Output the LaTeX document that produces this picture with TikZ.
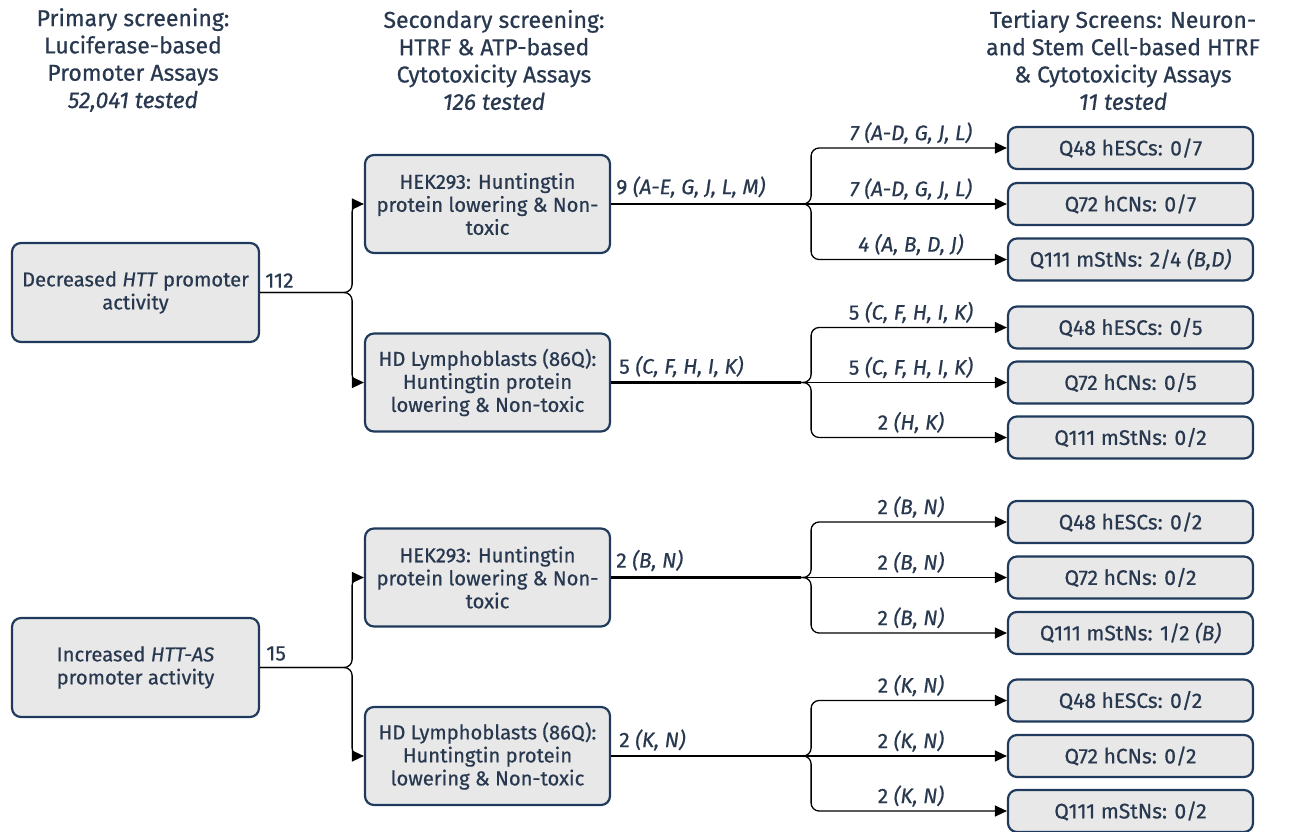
\documentclass[tikz,border=0pt]{standalone}
\usepackage{fontspec}
\setmainfont{Fira Sans}[UprightFeatures={FakeBold=0.6}, ItalicFeatures={FakeBold=0.6}]
\usetikzlibrary{arrows.meta}
\definecolor{navy}{HTML}{1F3A5C}
\definecolor{txt}{HTML}{28384F}
\definecolor{boxfill}{HTML}{E8E8E8}
\begin{document}
\begin{tikzpicture}[x=1pt,y=-1pt,
  box/.style={draw=navy, line width=2.2pt, fill=boxfill, rounded corners=9pt, align=center,
    text=txt, font=\fontsize{20.2}{23}\selectfont, inner sep=0pt},
  pbox/.style={box, minimum width=247pt, minimum height=99pt},
  sbox/.style={box, minimum width=245pt, minimum height=98pt},
  tbox/.style={box, minimum width=245pt, minimum height=42pt, font=\fontsize{21}{23}\selectfont},
  head/.style={align=center, text=txt, font=\fontsize{23}{27.3}\selectfont, inner sep=0pt},
  lab/.style={text=txt, font=\fontsize{21}{24}\selectfont, inner sep=0pt},
  conn/.style={draw=black, line width=1.3pt, rounded corners=8pt, -{Triangle[length=12pt,width=11pt]}},
  mainline/.style={draw=black, line width=2.8pt}
]
\useasboundingbox (0,0) rectangle (1294,831);

% headers
\node[head] (h1) at (133,60) {Primary screening:\\Luciferase-based\\Promoter Assays\\\textit{52,041 tested}};
\node[head] (h2) at (494,60) {Secondary screening:\\HTRF \& ATP-based\\Cytotoxicity Assays\\\textit{126 tested}};
\node[head] (h3) at (1123,60) {Tertiary Screens: Neuron-\\and Stem Cell-based HTRF\\\& Cytotoxicity Assays\\\textit{11 tested}};

% primary
\node[pbox] (p1) at (135.5,292.5) {Decreased \textit{HTT} promoter\\activity};
\node[pbox] (p2) at (135.5,667.5) {Increased \textit{HTT-AS}\\promoter activity};

% secondary
\node[sbox] (s1) at (487.5,204) {HEK293: Huntingtin\\protein lowering \& Non-\\toxic};
\node[sbox] (s2) at (487.5,382.5) {HD Lymphoblasts (86Q):\\Huntingtin protein\\lowering \& Non-toxic};
\node[sbox] (s3) at (487.5,577.5) {HEK293: Huntingtin\\protein lowering \& Non-\\toxic};
\node[sbox] (s4) at (487.5,756) {HD Lymphoblasts (86Q):\\Huntingtin protein\\lowering \& Non-toxic};

% tertiary
\node[tbox] (t1) at (1130.5,148) {Q48 hESCs: 0/7};
\node[tbox] (t2) at (1130.5,204) {Q72 hCNs: 0/7};
\node[tbox] (t3) at (1130.5,259.5) {Q111 mStNs: 2/4 \textit{(B,D)}};
\node[tbox] (t4) at (1130.5,327.5) {Q48 hESCs: 0/5};
\node[tbox] (t5) at (1130.5,382.5) {Q72 hCNs: 0/5};
\node[tbox] (t6) at (1130.5,437.5) {Q111 mStNs: 0/2};
\node[tbox] (t7) at (1130.5,522) {Q48 hESCs: 0/2};
\node[tbox] (t8) at (1130.5,577.5) {Q72 hCNs: 0/2};
\node[tbox] (t9) at (1130.5,633) {Q111 mStNs: 1/2 \textit{(B)}};
\node[tbox] (t10) at (1130.5,700.5) {Q48 hESCs: 0/2};
\node[tbox] (t11) at (1130.5,756) {Q72 hCNs: 0/2};
\node[tbox] (t12) at (1130.5,811) {Q111 mStNs: 0/2};

% primary -> secondary
\draw[conn] (p1.east) -- ++(92,0) |- (s1.west);
\draw[conn] (p1.east) -- ++(92,0) |- (s2.west);
\draw[conn] (p2.east) -- ++(92,0) |- (s3.west);
\draw[conn] (p2.east) -- ++(92,0) |- (s4.west);
\node[lab, anchor=west] (l112) at ([xshift=5pt,yshift=12pt]p1.east) {112};
\node[lab, anchor=west] (l15) at ([xshift=6pt,yshift=14pt]p2.east) {15};

% secondary -> tertiary
\foreach \s/\a/\b/\c in {s1/t1/t2/t3, s2/t4/t5/t6, s3/t7/t8/t9, s4/t10/t11/t12}{
  \draw[conn] (\s.east) -- ++(200,0) |- (\a.west);
  \draw[conn] (\s.east) -- (\b.west);
  \draw[conn] (\s.east) -- ++(200,0) |- (\c.west);
  \draw[mainline] (\s.east) -- ++(190,0);
}

% secondary output labels
\node[lab, anchor=west] (o1) at ([xshift=5pt,yshift=17pt]s1.east) {9 \textit{(A-E, G, J, L, M)}};
\node[lab, anchor=west] (o2) at ([xshift=8pt,yshift=16pt]s2.east) {5 \textit{(C, F, H, I, K)}};
\node[lab, anchor=west] (o3) at ([xshift=5pt,yshift=17pt]s3.east) {2 \textit{(B, N)}};
\node[lab, anchor=west] (o4) at ([xshift=8pt,yshift=16pt]s4.east) {2 \textit{(K, N)}};

% arrow labels
\node[lab] (a1) at ([xshift=-96pt,yshift=15pt]t1.west) {\textit{7 (A-D, G, J, L)}};
\node[lab] (a2) at ([xshift=-96pt,yshift=15pt]t2.west) {\textit{7 (A-D, G, J, L)}};
\node[lab] (a3) at ([xshift=-96pt,yshift=15pt]t3.west) {\textit{4 (A, B, D, J)}};
\node[lab] (a4) at ([xshift=-96pt,yshift=15pt]t4.west) {5 \textit{(C, F, H, I, K)}};
\node[lab] (a5) at ([xshift=-96pt,yshift=15pt]t5.west) {5 \textit{(C, F, H, I, K)}};
\node[lab] (a6) at ([xshift=-96pt,yshift=15pt]t6.west) {2 \textit{(H, K)}};
\node[lab] (a7) at ([xshift=-96pt,yshift=15pt]t7.west) {2 \textit{(B, N)}};
\node[lab] (a8) at ([xshift=-96pt,yshift=15pt]t8.west) {2 \textit{(B, N)}};
\node[lab] (a9) at ([xshift=-96pt,yshift=15pt]t9.west) {2 \textit{(B, N)}};
\node[lab] (a10) at ([xshift=-96pt,yshift=15pt]t10.west) {2 \textit{(K, N)}};
\node[lab] (a11) at ([xshift=-96pt,yshift=15pt]t11.west) {2 \textit{(K, N)}};
\node[lab] (a12) at ([xshift=-96pt,yshift=15pt]t12.west) {2 \textit{(K, N)}};
\end{tikzpicture}
\end{document}
